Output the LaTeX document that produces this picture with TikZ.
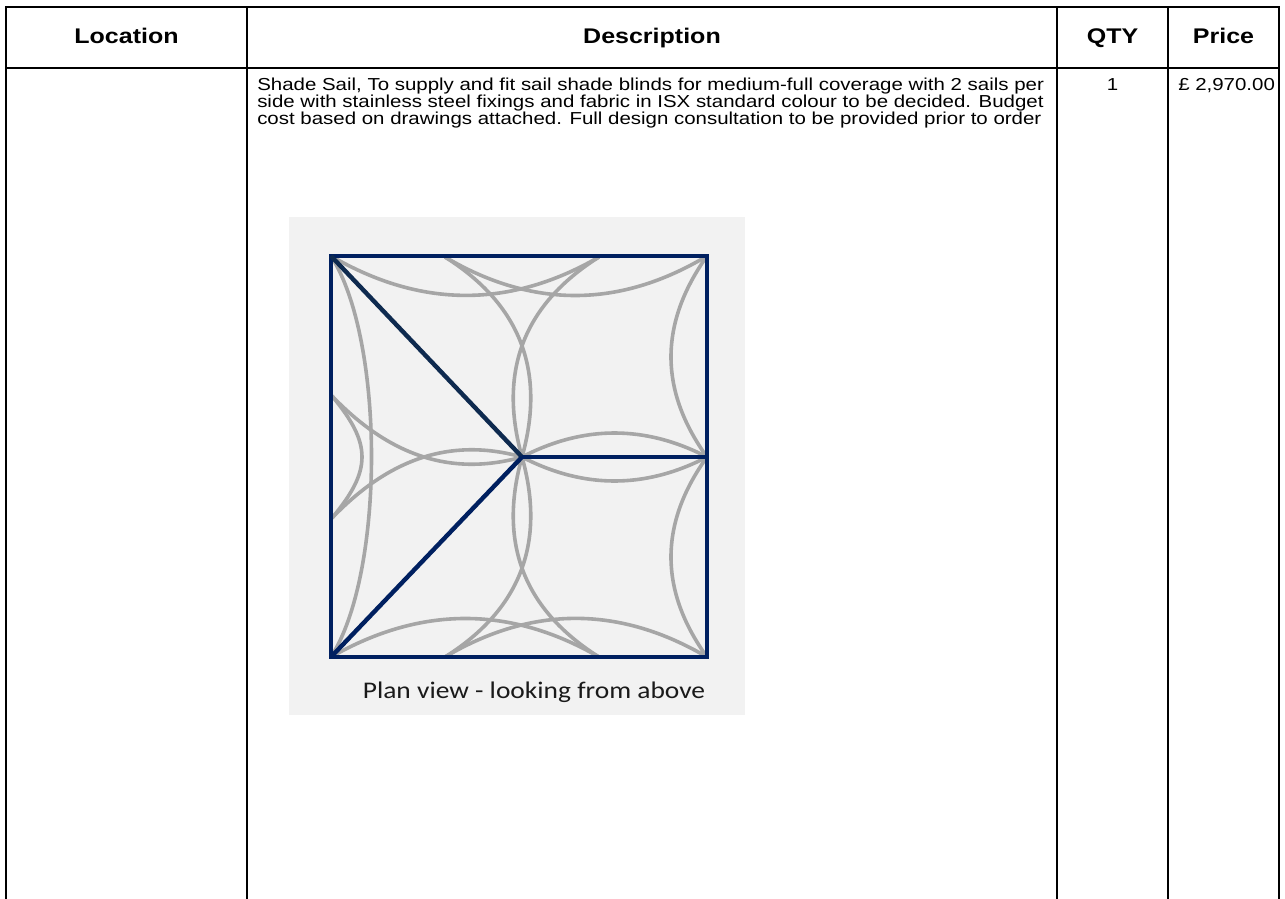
\documentclass[tikz,border=0pt]{standalone}
\usepackage{fontspec}
\setmainfont{Liberation Sans}[FakeStretch=1.18]
\newfontfamily\capfont{Carlito}[FakeStretch=1.15]
\definecolor{navy}{HTML}{002060}
\definecolor{darknavy}{HTML}{0E2A4F}
\definecolor{sailgray}{HTML}{A6A6A6}
\definecolor{panelbg}{HTML}{F2F2F2}
\definecolor{captext}{HTML}{1A1A1A}
\tikzset{
  grid/.style={line width=1.5pt, black},
  headtext/.style={font=\fontsize{15.9pt}{18pt}\selectfont\bfseries, anchor=base, inner sep=0pt},
  bodytext/.style={font=\fontsize{13pt}{12pt}\selectfont, anchor=base west, inner sep=0pt},
  sailedge/.style={draw=sailgray, line width=2.7pt},
  postline/.style={draw=navy, line width=3.3pt},
}
\begin{document}
\begin{tikzpicture}[x=0.75pt,y=-0.75pt]
\useasboundingbox (0,0) rectangle (1285,899);
\fill[white] (0,0) rectangle (1285,899);
% table grid
\draw[grid] (6,899) -- (6,7) -- (1279,7) -- (1279,899);
\draw[grid] (6,68) -- (1279,68);
\draw[grid] (247,7) -- (247,899);
\draw[grid] (1057,7) -- (1057,899);
\draw[grid] (1168,7) -- (1168,899);
% header
\node[headtext] (hloc) at (126.5,44) {Location};
\node[headtext] (hdesc) at (652,44) {Description};
\node[headtext] (hqty) at (1112.5,44) {QTY};
\node[headtext] (hprice) at (1223.5,44) {Price};
% body
\node[bodytext] (d1) at (257,91) {Shade Sail, To supply and fit sail shade blinds for medium-full coverage with 2 sails per};
\node[bodytext] (d2) at (257,107.5) {side with stainless steel fixings and fabric in ISX standard colour to be decided. Budget};
\node[bodytext] (d3) at (257,124) {cost based on drawings attached. Full design consultation to be provided prior to order};
\node[bodytext, anchor=base] (qty) at (1112.5,91) {1};
\node[bodytext] (price) at (1178,91) {£ 2,970.00};
% plan image
\fill[panelbg] (289,217) rectangle (745,715);
\coordinate (TL) at (331,256);
\coordinate (TR) at (707,256);
\coordinate (BL) at (331,657);
\coordinate (BR) at (707,657);
\coordinate (C) at (522,457);
\coordinate (RM) at (707,457);
\coordinate (T1) at (445,257);
\coordinate (T2) at (599,257);
\coordinate (B1) at (445,657);
\coordinate (B2) at (599,657);
\coordinate (L1) at (332,396);
\coordinate (L2) at (332,518);
% sail edges, top
\draw[sailedge] (TL) .. controls (420.3,308) and (509.7,308.7) .. (T2);
\draw[sailedge] (T1) .. controls (532.3,308.7) and (619.7,308.3) .. (TR);
\draw[sailedge] (T1) .. controls (520.4,304.5) and (546.1,371.2) .. (C);
\draw[sailedge] (T2) .. controls (523.6,304.5) and (497.9,371.2) .. (C);
\draw[sailedge] (TR) .. controls (659,323.7) and (659,390.3) .. (RM);
\draw[sailedge] (C) .. controls (583.7,425) and (645.3,425) .. (RM);
% sail edges, bottom
\draw[sailedge] (BL) .. controls (420.3,606) and (509.7,605.3) .. (B2);
\draw[sailedge] (B1) .. controls (532.3,605.3) and (619.7,605.7) .. (BR);
\draw[sailedge] (B1) .. controls (520.4,609.5) and (546.1,542.8) .. (C);
\draw[sailedge] (B2) .. controls (523.6,609.5) and (497.9,542.8) .. (C);
\draw[sailedge] (BR) .. controls (659,590.3) and (659,523.7) .. (RM);
\draw[sailedge] (C) .. controls (583.7,489) and (645.3,489) .. (RM);
% sail edges, left
\draw[sailedge] (TL) .. controls (385,340) and (385,573) .. (BL);
\draw[sailedge] (L1) .. controls (384,450) and (444.9,478.6) .. (C);
\draw[sailedge] (L2) .. controls (384,464) and (444.9,435.4) .. (C);
\draw[sailedge] (L1) .. controls (372,444) and (372,470) .. (L2);
% posts and frame
\draw[postline] (TL) rectangle (BR);
\draw[postline, draw=darknavy] (TL) -- (C);
\draw[postline] (BL) -- (C);
\draw[postline] (C) -- (RM);
\node[font=\capfont\fontsize{17.9pt}{20pt}\selectfont, text=captext, inner sep=0pt] (cap) at (534,692) {Plan view - looking from above};
\end{tikzpicture}
\end{document}
